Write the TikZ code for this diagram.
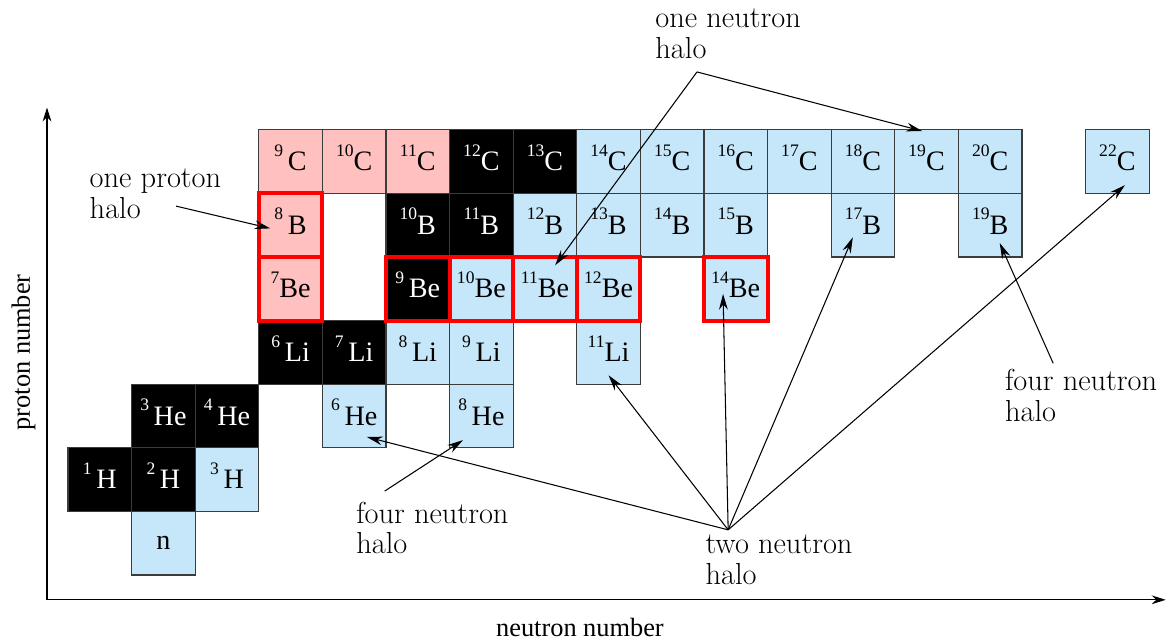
\documentclass[tikz,border=0pt]{standalone}
\usepackage{fontspec}
\usepackage{tikz}
\usetikzlibrary{calc,arrows.meta}
\newfontfamily\cellfont{Liberation Serif}
\definecolor{halopink}{RGB}{255, 192, 192}
\definecolor{haloblue}{RGB}{198, 230, 250}
\definecolor{cellline}{RGB}{60, 60, 60}
\newcommand{\nuc}[2]{\raisebox{0.52em}[0pt][0pt]{\fontsize{10}{10}\selectfont #1}#2}

\begin{document}
\begin{tikzpicture}[x=1.272cm, y=1.272cm,
    cell/.style={draw=cellline, line width=0.6pt, minimum size=1.272cm, inner sep=0pt, outer sep=0pt,
      font=\cellfont\fontsize{16}{16}\selectfont},
    pcell/.style={cell, fill=halopink},
    bcell/.style={cell, fill=haloblue},
    scell/.style={cell, fill=black, text=white},
    halobox/.style={draw=red, line width=2.3pt},
    note/.style={align=left, inner sep=0pt, font=\fontsize{17.3}{17.6}\selectfont},
    pointer/.style={-{Stealth[length=9pt, width=5pt, inset=3pt]}, line width=0.6pt},
    axis/.style={-{Stealth[length=8pt, width=5pt]}, line width=0.6pt}]
    \useasboundingbox (-1.069,-1.038) rectangle (17.296,9.041);

    % axes
    \draw[axis] (-0.33,-0.39) -- (17.26,-0.39);
    \draw[axis] (-0.33,-0.39) -- (-0.33,7.35);
    \node (xlab) at (8.05,-0.83) [font=\cellfont\fontsize{15}{15}\selectfont] {neutron number};
    \node (ylab) at (-0.70,3.50) [rotate=90, font=\cellfont\fontsize{15}{15}\selectfont] {proton number};

    % Z = 0, 1
    \node (n) at (1.5,0.5) [bcell] {n};
    \node (H1) at (0.5,1.5) [scell] {\nuc{1}{\,H}};
    \node (H2) at (1.5,1.5) [scell] {\nuc{2}{\,H}};
    \node (H3) at (2.5,1.5) [bcell] {\nuc{3}{\,H}};
    % Z = 2
    \node (He3) at (1.5,2.5) [scell] {\nuc{3}{\,He}};
    \node (He4) at (2.5,2.5) [scell] {\nuc{4}{\,He}};
    \node (He6) at (4.5,2.5) [bcell] {\nuc{6}{\,He}};
    \node (He8) at (6.5,2.5) [bcell] {\nuc{8}{\,He}};
    % Z = 3
    \node (Li6) at (3.5,3.5) [scell] {\nuc{6}{\,Li}};
    \node (Li7) at (4.5,3.5) [scell] {\nuc{7}{\,Li}};
    \node (Li8) at (5.5,3.5) [bcell] {\nuc{8}{\,Li}};
    \node (Li9) at (6.5,3.5) [bcell] {\nuc{9}{\,Li}};
    \node (Li11) at (8.5,3.5) [bcell] {\nuc{11}{Li}};
    % Z = 4
    \node (Be7) at (3.5,4.5) [pcell] {\nuc{7}{Be}};
    \node (Be9) at (5.5,4.5) [scell] {\nuc{9}{\,Be}};
    \node (Be10) at (6.5,4.5) [bcell] {\nuc{10}{Be}};
    \node (Be11) at (7.5,4.5) [bcell] {\nuc{11}{Be}};
    \node (Be12) at (8.5,4.5) [bcell] {\nuc{12}{Be}};
    \node (Be14) at (10.5,4.5) [bcell] {\nuc{14}{Be}};
    % Z = 5
    \node (B8) at (3.5,5.5) [pcell] {\nuc{8}{\,B}};
    \node (B10) at (5.5,5.5) [scell] {\nuc{10}{B}};
    \node (B11) at (6.5,5.5) [scell] {\nuc{11}{B}};
    \node (B12) at (7.5,5.5) [bcell] {\nuc{12}{B}};
    \node (B13) at (8.5,5.5) [bcell] {\nuc{13}{B}};
    \node (B14) at (9.5,5.5) [bcell] {\nuc{14}{B}};
    \node (B15) at (10.5,5.5) [bcell] {\nuc{15}{B}};
    \node (B17) at (12.5,5.5) [bcell] {\nuc{17}{B}};
    \node (B19) at (14.5,5.5) [bcell] {\nuc{19}{B}};
    % Z = 6
    \node (C9) at (3.5,6.5) [pcell] {\nuc{9}{\,C}};
    \node (C10) at (4.5,6.5) [pcell] {\nuc{10}{C}};
    \node (C11) at (5.5,6.5) [pcell] {\nuc{11}{C}};
    \node (C12) at (6.5,6.5) [scell] {\nuc{12}{C}};
    \node (C13) at (7.5,6.5) [scell] {\nuc{13}{C}};
    \node (C14) at (8.5,6.5) [bcell] {\nuc{14}{C}};
    \node (C15) at (9.5,6.5) [bcell] {\nuc{15}{C}};
    \node (C16) at (10.5,6.5) [bcell] {\nuc{16}{C}};
    \node (C17) at (11.5,6.5) [bcell] {\nuc{17}{C}};
    \node (C18) at (12.5,6.5) [bcell] {\nuc{18}{C}};
    \node (C19) at (13.5,6.5) [bcell] {\nuc{19}{C}};
    \node (C20) at (14.5,6.5) [bcell] {\nuc{20}{C}};
    \node (C22) at (16.5,6.5) [bcell] {\nuc{22}{C}};

    % halo nuclei
    \draw[halobox] (B8.south west) rectangle (B8.north east);
    \draw[halobox] (Be7.south west) rectangle (Be7.north east);
    \draw[halobox] (Be9.south west) rectangle (Be9.north east);
    \draw[halobox] (Be10.south west) rectangle (Be10.north east);
    \draw[halobox] (Be11.south west) rectangle (Be11.north east);
    \draw[halobox] (Be12.south west) rectangle (Be12.north east);
    \draw[halobox] (Be14.south west) rectangle (Be14.north east);

    % labels
    \node (onen) at (10.38,8.51) [note] {one neutron\\halo};
    \node (onep) at (1.376,5.99) [note] {one proton\\halo};
    \node (fourn) at (5.73,0.74) [note] {four neutron\\halo};
    \node (twon) at (11.18,0.24) [note] {two neutron\\halo};
    \node (fournr) at (15.93,2.83) [note] {four neutron\\halo};
    \coordinate (onenhub) at (9.89,7.91);
    \coordinate (onephub) at (1.70,5.80);
    \coordinate (fournhub) at (4.98,1.32);
    \coordinate (twonhub) at (10.38,0.71);
    \coordinate (fournrhub) at (15.49,3.33);

    \draw[pointer] (onenhub) -- ($(C19)+(-0.07,0.48)$);
    \draw[pointer] (onenhub) -- ($(Be11)+(0.16,0.37)$);
    \draw[pointer] (onephub) -- ($(B8)+(-0.32,-0.05)$);
    \draw[pointer] (fournhub) -- ($(He8)+(-0.29,-0.38)$);
    \draw[pointer] (twonhub) -- ($(He6)+(0.2,-0.33)$);
    \draw[pointer] (twonhub) -- ($(Li11)+(0,-0.36)$);
    \draw[pointer] (twonhub) -- ($(Be14)+(-0.2,-0.08)$);
    \draw[pointer] (twonhub) -- ($(B17)+(-0.16,-0.19)$);
    \draw[pointer] (twonhub) -- ($(C22)+(0.12,-0.37)$);
    \draw[pointer] (fournrhub) -- ($(B19)+(0.15,-0.28)$);
  \end{tikzpicture}
\end{document}
